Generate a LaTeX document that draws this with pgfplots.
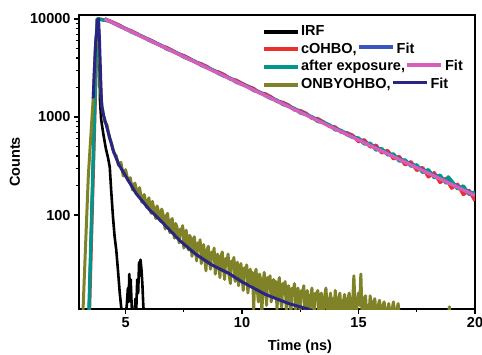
\documentclass[border=0pt]{standalone}
\usepackage{fontspec}
\setmainfont{Liberation Sans}
\usepackage{pgfplots}
\pgfplotsset{compat=1.18}
\definecolor{cred}{RGB}{236,48,48}
\definecolor{cblue}{RGB}{60,85,190}
\definecolor{cteal}{RGB}{0,150,140}
\definecolor{cpink}{RGB}{215,95,185}
\definecolor{colive}{RGB}{128,130,40}
\definecolor{cnavy}{RGB}{40,38,130}
\begin{document}
\begin{tikzpicture}
\begin{axis}[
  scale only axis, width=396pt, height=294pt,
  xmin=3, xmax=20, ymin=11, ymax=10970, ymode=log,
  xtick={5,10,15,20}, minor x tick num=1,
  ytick={100,1000,10000}, yticklabels={100,1000,10000},
  tick align=outside, xtick pos=left, ytick pos=left,
  major tick length=5pt, minor tick length=3pt,
  every tick/.append style={black, line width=1.2pt},
  axis line style={line width=1.6pt},
  /pgf/number format/assume math mode=true,
  ticklabel style={font=\fontsize{14.5}{17}\selectfont\bfseries},
  xlabel={Time (ns)}, ylabel={Counts},
  label style={font=\fontsize{14.5}{17}\selectfont\bfseries},
  xlabel style={at={(axis description cs:0.558,-0.105)}, anchor=north, inner sep=0pt},
  ylabel style={at={(axis description cs:-0.1616,0.5)}, anchor=center, inner sep=0pt},
  legend style={at={(0.462,0.97)}, anchor=north west, draw=none, fill=none,
    font=\fontsize{14.5}{17}\selectfont\bfseries, row sep=2.2pt, inner sep=0pt,
    nodes={inner sep=1pt, text height=10.5pt, text depth=3pt}},
  legend cell align=left,
  legend image code/.code={\draw[#1, line width=4pt] (0pt,0pt) -- (34pt,0pt);},
  every axis plot/.append style={line join=round},
]
% IRF
\addplot[black, line width=2.6pt] coordinates {
(3.42,9)(3.78,10000)(3.82,10000)(3.86,7000)(3.9,1500)
(3.95,950)(4.04,680)(4.15,480)(4.25,380)(4.32,310)(4.38,180)(4.46,95)(4.53,60)(4.6,44)
(4.68,26)(4.75,16)(4.82,11)(4.9,9)(5.0,9)(5.05,12)(5.1,18)(5.13,13)(5.16,25)(5.19,16)
(5.22,22)(5.26,12)(5.3,9)(5.38,9)(5.42,14)(5.46,11)(5.5,22)(5.54,16)(5.58,33)(5.61,24)
(5.64,35)(5.68,28)(5.72,20)(5.76,12)(5.8,9)(6.0,9)};
\addlegendentry{IRF}
% cOHBO data
\addplot[cred, line width=3.4pt] coordinates {
(3.44,9)(3.79,10000)(3.86,10000)(3.95,9900)(4.1,9750)(4.3,9600)
(4.5,9150)(4.75,8600)(5.0,7900)(5.25,7550)(5.5,7050)(5.75,6500)(6.0,6200)(6.25,5800)
(6.5,5330)(6.75,5120)(7.0,4790)(7.25,4400)(7.5,4230)(7.75,3950)(8.0,3620)(8.25,3480)
(8.5,3260)(8.75,2970)(9.0,2870)(9.25,2690)(9.5,2430)(9.75,2370)(10.0,2200)(10.25,2060)
(10.5,1950)(10.75,1760)(11.0,1720)(11.25,1600)(11.5,1440)(11.75,1410)(12.0,1320)
(12.25,1180)(12.5,1160)(12.75,1090)(13.0,970)(13.25,960)(13.5,890)(13.75,800)(14.0,790)
(14.25,700)(14.5,690)(14.75,650)(15.0,560)(15.25,585)(15.5,495)(15.75,515)(16.0,430)
(16.25,455)(16.5,375)(16.75,395)(17.0,325)(17.25,350)(17.5,285)(17.75,305)(18.0,245)
(18.25,270)(18.5,215)(18.75,236)(19.0,188)(19.25,206)(19.5,162)(19.75,178)(20.0,140)};
\addlegendentry{cOHBO,\hspace{2pt}\textcolor{cblue}{\rule[0.3em]{34pt}{3.5pt}}\hspace{4pt}Fit}
% cOHBO fit
\addplot[cblue, line width=3.4pt, forget plot] coordinates {(4.1,10050)(20,162)};
% after exposure data
\addplot[cteal, line width=3.4pt] coordinates {
(3.42,9)(3.78,10000)(3.85,10000)(3.95,9850)(4.1,9700)(4.3,9500)
(4.5,9000)(4.75,8400)(5.0,8000)(5.25,7350)(5.5,6950)(5.75,6600)(6.0,6050)(6.25,5700)
(6.5,5420)(6.75,4950)(7.0,4700)(7.25,4450)(7.5,4080)(7.75,3860)(8.0,3660)(8.25,3360)
(8.5,3180)(8.75,3020)(9.0,2760)(9.25,2600)(9.5,2480)(9.75,2260)(10.0,2150)(10.25,2040)
(10.5,1860)(10.75,1790)(11.0,1650)(11.25,1540)(11.5,1480)(11.75,1340)(12.0,1290)
(12.25,1220)(12.5,1100)(12.75,1060)(13.0,1000)(13.25,900)(13.5,880)(13.75,830)(14.0,740)
(14.25,730)(14.5,660)(14.75,620)(15.0,610)(15.25,530)(15.5,540)(15.75,460)(16.0,475)
(16.25,410)(16.5,420)(16.75,355)(17.0,365)(17.25,315)(17.5,325)(17.75,272)(18.0,290)
(18.25,240)(18.5,255)(18.75,212)(18.85,245)(19.0,222)(19.25,185)(19.5,198)(19.75,162)(20.0,172)};
\addlegendentry{after exposure,\hspace{2pt}\textcolor{cpink}{\rule[0.3em]{34pt}{3.5pt}}\hspace{4pt}Fit}
% after exposure fit
\addplot[cpink, line width=3.4pt, forget plot] coordinates {(4.1,10000)(20,158)};
% ONBYOHBO data
\addplot[colive, line width=3pt] coordinates {
(3.16,9)(3.4,250)(3.61,1550)(3.7,5000)(3.8,10000)(3.88,4000)(3.95,1600)
(4.0,1250)(4.1,900)(4.2,830)(4.3,620)(4.4,540)(4.5,430)(4.6,400)(4.7,320)(4.8,345)
(4.9,250)(5.0,290)(5.1,225)(5.2,240)(5.3,180)(5.4,212)(5.5,165)(5.6,190)(5.7,135)
(5.8,162)(5.9,120)(6.0,150)(6.05,118)(6.1,104)(6.15,138)(6.2,120)(6.3,92)(6.35,124)
(6.4,112)(6.5,86)(6.55,115)(6.6,104)(6.7,72)(6.75,98)(6.8,104)(6.9,66)(6.95,88)(7.0,92)
(7.05,70)(7.1,58)(7.15,82)(7.2,76)(7.3,52)(7.35,72)(7.4,64)(7.45,78)(7.5,46)(7.55,60)
(7.6,70)(7.65,52)(7.7,44)(7.75,62)(7.8,58)(7.85,38)(7.9,50)(7.95,60)(8.0,47)(8.05,34)
(8.1,52)(8.15,44)(8.2,56)(8.25,32)(8.3,40)(8.35,50)(8.4,36)(8.45,27)(8.5,44)(8.55,48)
(8.6,34)(8.65,28)(8.7,42)(8.75,36)(8.8,46)(8.85,25)(8.9,31)(8.95,40)(9.0,34)(9.05,23)
(9.1,38)(9.15,42)(9.2,30)(9.25,22)(9.3,36)(9.35,32)(9.4,40)(9.45,24)(9.5,20)(9.55,34)
(9.6,30)(9.65,37)(9.7,21)(9.75,28)(9.8,33)(9.85,19)(9.9,26)(9.95,32)(10.0,24)(10.05,17)
(10.1,29)(10.15,25)(10.2,31)(10.25,16)(10.3,22)(10.35,28)(10.4,20)(10.45,26)(10.5,11)
(10.55,24)(10.6,28)(10.65,18)(10.7,13)(10.75,25)(10.8,22)(10.85,10)(10.9,19)(10.95,26)
(11.0,20)(11.05,12)(11.1,23)(11.15,18)(11.2,24)(11.25,13)(11.3,17)(11.35,22)(11.4,15)
(11.45,21)(11.5,11)(11.55,18)(11.6,23)(11.65,14)(11.7,11.5)(11.75,20)(11.8,17)(11.85,21)
(11.9,10.5)(11.95,16)(12.0,19)(12.05,13)(12.1,10.5)(12.15,18)(12.2,16)(12.25,20)(12.3,10)
(12.35,14)(12.4,18)(12.45,12)(12.5,10.5)(12.55,17)(12.6,15)(12.65,19)(12.7,10)(12.75,13)
(12.8,17)(12.85,11)(12.9,10)(12.95,15)(13.0,18)(13.05,12)(13.1,9.5)(13.15,16)(13.2,14)
(13.25,17)(13.3,10)(13.35,12)(13.4,16)(13.45,10)(13.5,9.5)(13.55,15)(13.6,18)(13.65,12)
(13.7,9.5)(13.75,13)(13.8,16)(13.85,10)(13.9,14)(13.95,9.5)(14.0,17)(14.05,12)(14.1,9.5)
(14.15,14)(14.2,16)(14.25,10)(14.3,9.5)(14.35,13)(14.4,15.5)(14.45,10)(14.5,9.5)(14.55,14)
(14.6,16)(14.65,11)(14.7,9.5)(14.75,13)(14.8,24)(14.85,12)(14.9,9.5)(14.95,13)(15.0,16)
(15.05,12)(15.1,25)(15.15,10)(15.2,9.5)(15.25,14)(15.3,15)(15.35,9.5)(15.4,12)(15.45,9.5)
(15.5,15)(15.55,11)(15.6,9.5)(15.65,13)(15.7,14)(15.75,9.5)(15.8,9.5)(15.85,12)(15.9,13.5)
(15.95,9.5)(16.0,9.5)(16.05,12)(16.1,13)(16.15,9.5)(16.2,9.5)(16.3,12.5)(16.35,9.5)
(16.4,9.5)(16.5,13)(16.55,9.5)(16.6,9.5)(16.7,12.5)(16.75,9.5)(16.8,9)};
\addlegendentry{ONBYOHBO,\hspace{2pt}\textcolor{cnavy}{\rule[0.3em]{34pt}{3.5pt}}\hspace{4pt}Fit}
\addplot[colive, line width=3pt, forget plot] coordinates {(18.85,9)(18.9,11.6)(18.95,9)};
% ONBYOHBO fit
\addplot[cnavy, line width=3pt, forget plot] coordinates {
(3.61,1550)(3.66,3000)(3.72,6000)(3.8,9800)(3.84,10000)(3.88,6000)(3.93,2500)
(3.97,1300)(4.05,1050)(4.2,780)(4.46,460)(4.7,330)(5.0,250)(5.45,166)(6.0,115)
(6.5,88)(7.3,55.6)(8.0,40)(8.7,31)(9.43,25.4)(10.0,20.8)(11.0,15.5)(12.0,12.5)
(12.83,11)(13.2,10)};
\end{axis}
\pgfresetboundingbox
\useasboundingbox (current axis.south west) ++(-79pt,-45pt) rectangle ++(482pt,354pt);
\end{tikzpicture}
\end{document}
